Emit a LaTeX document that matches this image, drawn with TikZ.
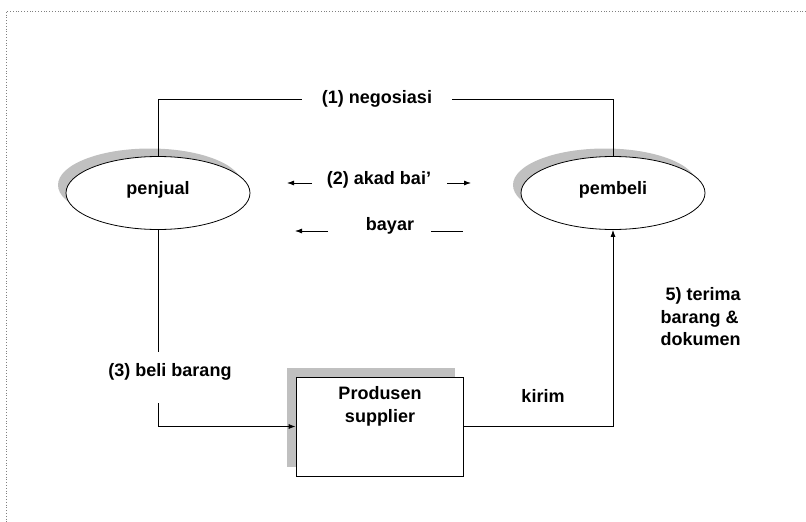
\documentclass[tikz,border=0pt]{standalone}
\usepackage{fontspec}
\setmainfont{Liberation Sans}
\usetikzlibrary{arrows.meta,shapes.geometric}
\definecolor{shadowgray}{HTML}{C0C0C0}
\tikzset{
  every node/.style={font=\fontsize{18}{22.5}\selectfont\bfseries},
  ell/.style={ellipse, draw, fill=white, line width=0.8pt, minimum width=184pt, minimum height=73pt, inner sep=0pt, text height=13pt, text depth=11pt},
  ellshadow/.style={ellipse, fill=shadowgray, minimum width=184pt, minimum height=73pt, inner sep=0pt},
  conn/.style={line width=0.8pt},
  tip/.style={-{Latex[length=7pt,width=5pt]}},
  lbl/.style={fill=white, inner sep=0pt}
}
\begin{document}
\begin{tikzpicture}[x=1pt,y=-1pt]
\useasboundingbox (0,0) rectangle (806,522);
% frame
\draw[gray, dotted, line width=0.8pt] (806,11) -- (6,11) -- (6,522);
% shadows
\node[ellshadow] (pjs) at (150,185) {};
\node[ellshadow] (pbs) at (605,185) {};
\fill[shadowgray] (287,368) rectangle (455,467);
% main nodes
\node[ell] (pj) at (158,193) {penjual};
\node[ell] (pb) at (613,193) {pembeli};
\node[draw, fill=white, line width=0.8pt, minimum width=167pt, minimum height=99pt, inner sep=0pt] (box) at (379.5,426.5) {};
\node[align=center, anchor=north] (boxtxt) at (380,383) {Produsen\\supplier};
% (1) negosiasi
\node[lbl, inner xsep=20pt] (neg) at (377,99) {(1) negosiasi};
\draw[conn] (pj.north) |- (neg.west);
\draw[conn] (neg.east) -| (pb.north);
% (2) akad bai'
\node (akad) at (379,180) {(2) akad bai’};
\coordinate (a1) at (312,183); \coordinate (a2) at (287,183);
\coordinate (a3) at (447,183); \coordinate (a4) at (471,183);
\draw[conn, tip] (a1) -- (a2);
\draw[conn, tip] (a3) -- (a4);
% bayar
\node (bayar) at (390,226) {bayar};
\coordinate (y1) at (328,231); \coordinate (y2) at (295,231);
\coordinate (y3) at (431,231); \coordinate (y4) at (463,231);
\draw[conn, tip] (y1) -- (y2);
\draw[conn] (y3) -- (y4);
% (3) beli barang
\node (beli) at (170,372) {(3) beli barang};
\coordinate (b1) at (158,352);
\coordinate (b2) at (158,403);
\draw[conn] (pj.south) -- (b1);
\draw[conn, tip] (b2) |- (box.west);
% kirim
\node (kirim) at (543,396) {kirim};
\draw[conn, tip] (box.east) -| (pb.south);
% 5) terima
\node[align=left, anchor=north west] (terima) at (657,284) {\ 5) terima\\barang \&\\dokumen};
\end{tikzpicture}
\end{document}
